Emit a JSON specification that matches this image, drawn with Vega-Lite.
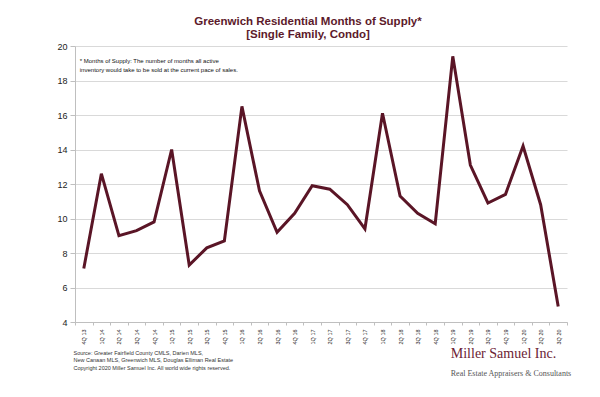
{
  "$schema": "https://vega.github.io/schema/vega-lite/v6.json",
  "autosize": "none",
  "width": 492,
  "height": 276,
  "padding": {"left": 75, "top": 46, "right": 33, "bottom": 75},
  "background": "white",
  "config": {
    "view": {"stroke": null},
    "font": "Liberation Sans"
  },
  "title": {
    "text": ["Greenwich Residential Months of Supply*", "[Single Family, Condo]"],
    "font": "Liberation Sans",
    "fontSize": 11.5,
    "fontWeight": "bold",
    "color": "#5c1a2b",
    "anchor": "middle",
    "frame": "group",
    "dx": -13,
    "offset": 2,
    "lineHeight": 12.5
  },
  "encoding": {
    "x": {
      "field": "q", "type": "ordinal",
      "scale": {"type": "band", "paddingInner": 0, "paddingOuter": 0,
        "domain": ["4Q 13","1Q 14","2Q 14","3Q 14","4Q 14","1Q 15","2Q 15","3Q 15","4Q 15","1Q 16","2Q 16","3Q 16","4Q 16","1Q 17","2Q 17","3Q 17","4Q 17","1Q 18","2Q 18","3Q 18","4Q 18","1Q 19","2Q 19","3Q 19","4Q 19","1Q 20","2Q 20","3Q 20"]},
      "axis": {
        "labelAngle": -90, "labelAlign": "right", "labelBaseline": "middle",
        "labelFontSize": 5.5, "labelColor": "#222", "labelPadding": 4,
        "tickBand": "extent", "tickSize": 3, "tickColor": "#bfbfbf",
        "domainColor": "#bfbfbf", "grid": false,
        "title": ["Source:  Greater Fairfield County CMLS, Darien MLS,", "New Canaan MLS, Greenwich MLS, Douglas Elliman Real Estate", "Copyright 2020 Miller Samuel Inc.  All world wide rights reserved."],
        "titleFont": "Liberation Sans", "titleFontSize": 5.5, "titleFontWeight": "normal",
        "titleColor": "#333", "titleAnchor": "start", "titleAlign": "left",
        "titleBaseline": "alphabetic", "titleX": -2, "titleY": 32, "titleLineHeight": 7.6
      }
    },
    "y": {
      "field": "v", "type": "quantitative",
      "scale": {"domain": [4, 20], "nice": false, "zero": false},
      "axis": {
        "values": [4, 6, 8, 10, 12, 14, 16, 18, 20],
        "tickCount": 9,
        "labelOverlap": false,
        "labelFontSize": 9, "labelColor": "#222", "labelPadding": 3,
        "tickSize": 5, "tickColor": "#bfbfbf", "domainColor": "#bfbfbf",
        "gridColor": "#d9d9d9", "title": null
      }
    }
  },
  "layer": [
    {
      "data": {
        "values": [
          {"q": "4Q 13", "v": 7.1},
          {"q": "1Q 14", "v": 12.6},
          {"q": "2Q 14", "v": 9.0},
          {"q": "3Q 14", "v": 9.3},
          {"q": "4Q 14", "v": 9.8},
          {"q": "1Q 15", "v": 14.0},
          {"q": "2Q 15", "v": 7.3},
          {"q": "3Q 15", "v": 8.3},
          {"q": "4Q 15", "v": 8.7},
          {"q": "1Q 16", "v": 16.5},
          {"q": "2Q 16", "v": 11.6},
          {"q": "3Q 16", "v": 9.2},
          {"q": "4Q 16", "v": 10.3},
          {"q": "1Q 17", "v": 11.9},
          {"q": "2Q 17", "v": 11.7},
          {"q": "3Q 17", "v": 10.8},
          {"q": "4Q 17", "v": 9.4},
          {"q": "1Q 18", "v": 16.1},
          {"q": "2Q 18", "v": 11.3},
          {"q": "3Q 18", "v": 10.3},
          {"q": "4Q 18", "v": 9.7},
          {"q": "1Q 19", "v": 19.4},
          {"q": "2Q 19", "v": 13.1},
          {"q": "3Q 19", "v": 10.9},
          {"q": "4Q 19", "v": 11.4},
          {"q": "1Q 20", "v": 14.2},
          {"q": "2Q 20", "v": 10.8},
          {"q": "3Q 20", "v": 4.9}
        ]
      },
      "mark": {"type": "line", "color": "#5a1526", "strokeWidth": 3, "strokeJoin": "miter"}
    },
    {
      "data": {"values": [{"q": "4Q 13", "v": 19.0}]},
      "mark": {
        "type": "text", "align": "left", "baseline": "alphabetic", "dx": -4,
        "fontSize": 6, "color": "#111", "lineHeight": 8.5,
        "text": ["* Months of Supply: The number of months all active", "inventory would take to be sold at the current pace of sales."]
      }
    },
    {
      "data": {"values": [{"q": "1Q 19", "v": 1.91}]},
      "mark": {
        "type": "text", "align": "left", "baseline": "alphabetic", "dx": -2,
        "font": "Liberation Serif", "fontSize": 14, "color": "#6b2334",
        "text": "Miller Samuel Inc."
      }
    },
    {
      "data": {"values": [{"q": "1Q 19", "v": 0.87}]},
      "mark": {
        "type": "text", "align": "left", "baseline": "alphabetic", "dx": -2,
        "font": "Liberation Serif", "fontSize": 8, "color": "#555",
        "text": "Real Estate Appraisers & Consultants"
      }
    }
  ]
}
